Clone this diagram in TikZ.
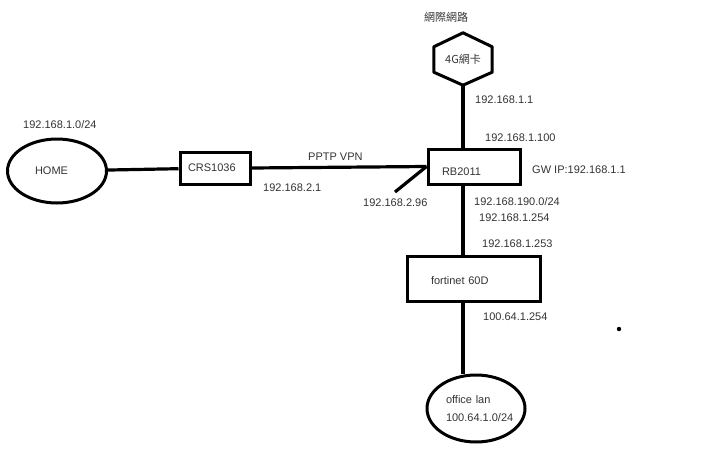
\documentclass[tikz,border=0pt]{standalone}
\usepackage{fontspec}
\setmainfont{Liberation Sans}
\newfontfamily\cjk{Noto Sans CJK TC}
\usetikzlibrary{shapes.geometric}
\begin{document}
\begin{tikzpicture}[
    x=1pt, y=-1pt,
    box/.style={rectangle, draw, line width=3pt, inner sep=0pt, align=left, text=black!80, font=\fontsize{11}{13}\selectfont},
    lan/.style={ellipse, draw, line width=3pt, inner sep=0pt, align=left, text=black!80, font=\fontsize{11}{18}\selectfont},
    ip/.style={anchor=west, inner sep=0pt, text=black!80, font=\fontsize{11}{13}\selectfont},
    link/.style={line width=3.2pt}
]
\useasboundingbox (0,0) rectangle (720,450);

\node[lan, minimum width=99pt, minimum height=64pt, text width=44pt] (home) at (57,171) {HOME};
\node[box, minimum width=70pt, minimum height=32pt, text width=54pt] (crs) at (215,168) {CRS1036};
\node[box, minimum width=92pt, minimum height=35pt, text width=64pt, text height=18pt] (rb) at (474,166.5) {RB2011};
\node[box, minimum width=133pt, minimum height=45pt, text width=85pt, text height=13pt] (fw) at (473.5,278.5) {fortinet 60D};
\node[lan, minimum width=98pt, minimum height=67pt, text width=60pt] (office) at (476,408.5) {office lan\\100.64.1.0/24};

% 4G card
\node[rectangle, minimum width=58pt, minimum height=52pt, inner sep=0pt, text=black!80, font=\cjk\fontsize{11}{13}\selectfont] (hex) at (463,59) {4G網卡};
\draw[line width=3pt, line join=round] (hex.north) -- ([yshift=-14pt]hex.north east) -- ([yshift=13pt]hex.south east)
    -- (hex.south) -- ([yshift=13pt]hex.south west) -- ([yshift=-14pt]hex.north west) -- cycle;

\coordinate (peer) at (395,192);

\draw[link] (home) -- (crs);
\draw[link] (crs.east) -- (rb.west);
\draw[link] (peer) -- (rb.west);
\draw[link] (hex.south) -- (hex.south |- rb.north);
\draw[link] (hex.south |- rb.south) -- (hex.south |- fw.north);
\draw[link] (hex.south |- fw.south) -- (hex.south |- office.north);

\fill (619,329) circle (2.2pt);

% labels
\node[ip, font=\cjk\fontsize{11}{13}\selectfont] (inet) at (424,17) {網際網路};
\node[ip] (ip4g) at (475,100) {192.168.1.1};
\node[ip] (iprbwan) at (485,138) {192.168.1.100};
\node[ip] (gw) at (532,170) {GW IP:192.168.1.1};
\node[ip] (homenet) at (23,125) {192.168.1.0/24};
\node[ip] (pptp) at (308,157) {PPTP VPN};
\node[ip] (ipcrs) at (263,188) {192.168.2.1};
\node[ip] (ippeer) at (363,203) {192.168.2.96};
\node[ip] (iprblan) at (474,202) {192.168.190.0/24};
\node[ip] (iprbfw) at (479,218) {192.168.1.254};
\node[ip] (ipfwwan) at (482,244) {192.168.1.253};
\node[ip] (ipfwlan) at (483,317) {100.64.1.254};

\end{tikzpicture}
\end{document}
